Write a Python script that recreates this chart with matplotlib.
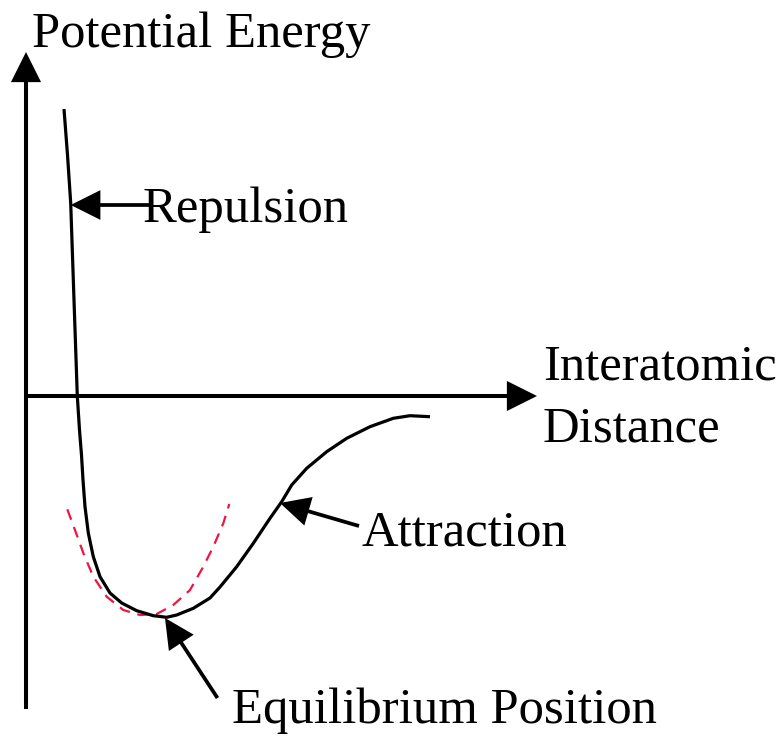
import matplotlib
matplotlib.use("Agg")
import numpy as np
from matplotlib import pyplot as plt
from matplotlib.patches import FancyArrowPatch

plt.rcParams['font.family'] = ['Liberation Serif', 'DejaVu Serif']

# interatomic distance / potential energy of the bond curve (arbitrary units)
distance = [38, 41.5, 44.7, 48, 51.3, 53.5, 55.5, 57, 59, 62.3, 67.3, 74, 84,
            95.7, 110.7, 127.3, 140.7, 150.7, 167.3, 184, 194, 210.7, 227.3,
            244, 255.7, 265.7, 280.7, 300.7, 320.7, 344, 367.3, 384, 404]
energy = [287, 241, 193, 96, 0, -34, -59, -84, -110.7, -137, -160.7, -180.7,
          -197, -207, -214.7, -219.7, -221.3, -219, -212.3, -202, -191, -170.7,
          -147.3, -122.3, -105.7, -89, -72.3, -55.7, -42.3, -30.7, -22.3, -19.7,
          -20.7]

# harmonic approximation near the minimum
harm_distance = [41.3, 49, 57.3, 67.3, 80.7, 97.3, 114, 130.7, 147.3, 164,
                 177.3, 187.3, 197.3, 203.3]
harm_energy = [-113.3, -134, -157, -180.7, -200.7, -214, -219, -218, -209, -194,
               -170.7, -150.7, -127.3, -108]

FS = 36.5

fig = plt.figure(figsize=(7.84, 7.36), dpi=100)
ax = fig.add_axes([0, 0, 1, 1])
ax.set_xlim(-26, 758)
ax.set_ylim(-340, 396)
ax.axis('off')


def arrow(tail, tip, lw=2.7):
    a = FancyArrowPatch(tail, tip, arrowstyle='-|>,head_length=17,head_width=8.5',
                        mutation_scale=1, shrinkA=0, shrinkB=0, lw=lw,
                        color='black', joinstyle='miter', capstyle='butt')
    ax.add_patch(a)


# axes
arrow((0, -313), (0, 344), lw=2.9)
arrow((0, 0), (511, 0), lw=2.9)

ax.plot(harm_distance, harm_energy, color='#ee1540', lw=1.6, ls=(0, (5, 3.5)),
        solid_joinstyle='round')
ax.plot(distance, energy, color='black', lw=2.3, solid_capstyle='butt',
        solid_joinstyle='round')

# labelled arrows
arrow((124, 191), (44.7, 191))
arrow((333, -130), (254, -107))
arrow((191.5, -302), (139, -222))

ax.text(6, 349, "Potential Energy", fontsize=FS, ha='left', va='baseline')
ax.text(117, 174, "Repulsion", fontsize=FS, ha='left', va='baseline')
ax.text(517, 16, "Interatomic", fontsize=FS, ha='left', va='baseline')
ax.text(517, -46, "Distance", fontsize=FS, ha='left', va='baseline')
ax.text(336, -149, "Attraction", fontsize=FS, ha='left', va='baseline')
ax.text(206, -327, "Equilibrium Position", fontsize=FS, ha='left', va='baseline')

fig.savefig("out.png", dpi=100, facecolor='white')
